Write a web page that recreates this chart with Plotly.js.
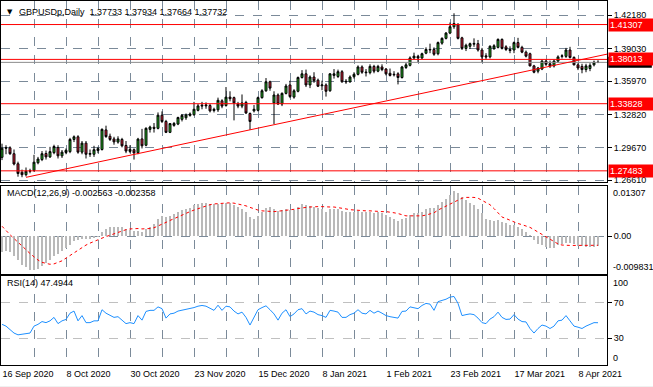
<!DOCTYPE html>
<html>
<head>
<meta charset="utf-8">
<script src="https://cdn.plot.ly/plotly-3.0.1.min.js"></script>
<style>html,body{margin:0;padding:0;background:#fff;}#chart{width:653px;height:387px;}</style>
</head>
<body>
<div id="chart"></div>
<script>
// ---------------- DATA ----------------
const firstDay = '2020-09-16';
const lastDay = '2021-04-15';
const closedDays = ['2020-12-25', '2021-01-01'];

const openP = [1.2876,1.2962,1.2966,1.2910,1.2815,1.2735,1.2712,1.2745,1.2752,1.2825,
1.2855,1.2912,1.2880,1.2920,1.2968,1.2890,1.2922,1.2930,1.3045,1.3070,
1.2925,1.3010,1.2905,1.2905,1.2940,1.2950,1.3135,1.3075,1.3050,1.3020,
1.3045,1.2988,1.2932,1.2948,1.2920,1.3050,1.2990,1.3140,1.3160,1.3150,
1.3274,1.3215,1.3112,1.3178,1.3190,1.3235,1.3250,1.3272,1.3278,1.3320,
1.3360,1.3362,1.3365,1.3318,1.3325,1.3410,1.3365,1.3445,1.3440,1.3380,
1.3360,1.3395,1.3290,1.3315,1.3320,1.3440,1.3505,1.3590,1.3390,1.3465,
1.3380,1.3480,1.3560,1.3445,1.3500,1.3630,1.3665,1.3560,1.3635,1.3605,
1.3552,1.3560,1.3505,1.3650,1.3640,1.3685,1.3595,1.3590,1.3638,1.3660,
1.3730,1.3682,1.3676,1.3735,1.3690,1.3730,1.3710,1.3670,1.3655,1.3665,
1.3630,1.3725,1.3745,1.3815,1.3830,1.3815,1.3860,1.3890,1.3895,1.3855,
1.3955,1.4000,1.4050,1.4110,1.4130,1.4005,1.3905,1.3925,1.3945,1.3950,
1.3890,1.3835,1.3825,1.3905,1.3915,1.3990,1.3920,1.3895,1.3890,1.3960,
1.3915,1.3870,1.3855,1.3740,1.3690,1.3710,1.3785,1.3760,1.3740,1.3785,
1.3830,1.3830,1.3890,1.3820,1.3750,1.3735,1.3705,1.3715,1.3750,1.37733];
const highP = [1.3005,1.2990,1.2980,1.2950,1.2835,1.2760,1.2780,1.2768,1.2900,1.2880,
1.2935,1.2940,1.2975,1.2995,1.2990,1.2945,1.2960,1.3060,1.3083,1.3085,
1.3030,1.3030,1.2950,1.2985,1.2975,1.3150,1.3175,1.3100,1.3070,1.3075,
1.3060,1.3030,1.2990,1.2960,1.3060,1.3145,1.3160,1.3175,1.3200,1.3300,
1.3310,1.3230,1.3200,1.3210,1.3260,1.3285,1.3290,1.3300,1.3400,1.3380,
1.3400,1.3395,1.3380,1.3345,1.3440,1.3425,1.3540,1.3500,1.3450,1.3400,
1.3470,1.3410,1.3300,1.3370,1.3450,1.3520,1.3625,1.3600,1.3500,1.3480,
1.3490,1.3570,1.3600,1.3520,1.3640,1.3700,1.3705,1.3650,1.3680,1.3620,
1.3600,1.3575,1.3670,1.3710,1.3705,1.3700,1.3615,1.3650,1.3680,1.3745,
1.3745,1.3710,1.3755,1.3750,1.3750,1.3755,1.3720,1.3715,1.3690,1.3680,
1.3740,1.3770,1.3830,1.3865,1.3845,1.3865,1.3915,1.3950,1.3915,1.3970,
1.4010,1.4060,1.4150,1.4237,1.4145,1.4015,1.3950,1.3960,1.4000,1.3985,
1.3910,1.3860,1.3935,1.3945,1.4000,1.4000,1.3935,1.3925,1.3970,1.4005,
1.3930,1.3885,1.3865,1.3750,1.3730,1.3800,1.3800,1.3790,1.3800,1.3840,
1.3850,1.3910,1.3920,1.3830,1.3765,1.3760,1.3760,1.3765,1.3790,1.37934];
const lowP = [1.2850,1.2905,1.2900,1.2800,1.2693,1.2688,1.2695,1.2725,1.2740,1.2810,
1.2840,1.2855,1.2870,1.2905,1.2865,1.2870,1.2905,1.2915,1.3020,1.2910,
1.2905,1.2865,1.2880,1.2880,1.2915,1.2940,1.3060,1.3030,1.2995,1.3005,
1.2970,1.2915,1.2915,1.2855,1.2905,1.2960,1.2980,1.3110,1.3110,1.3140,
1.3200,1.3105,1.3105,1.3165,1.3180,1.3215,1.3230,1.3260,1.3270,1.3310,
1.3330,1.3335,1.3300,1.3300,1.3305,1.3340,1.3355,1.3405,1.3225,1.3340,
1.3340,1.3285,1.3135,1.3300,1.3310,1.3430,1.3495,1.3505,1.3190,1.3370,
1.3360,1.3470,1.3435,1.3430,1.3490,1.3620,1.3540,1.3530,1.3580,1.3540,
1.3510,1.3450,1.3495,1.3620,1.3625,1.3580,1.3570,1.3580,1.3620,1.3650,
1.3665,1.3640,1.3660,1.3670,1.3680,1.3690,1.3650,1.3640,1.3640,1.3565,
1.3620,1.3710,1.3735,1.3800,1.3775,1.3805,1.3850,1.3860,1.3835,1.3840,
1.3940,1.3990,1.4040,1.4090,1.3990,1.3890,1.3880,1.3900,1.3920,1.3875,
1.3775,1.3800,1.3810,1.3890,1.3905,1.3895,1.3880,1.3860,1.3860,1.3905,
1.3860,1.3820,1.3735,1.3670,1.3670,1.3700,1.3740,1.3720,1.3725,1.3770,
1.3810,1.3815,1.3810,1.3745,1.3700,1.3670,1.3680,1.3690,1.3735,1.37664];
const closeP = [1.2962,1.2966,1.2910,1.2813,1.2723,1.2712,1.2745,1.2748,1.2830,1.2860,
1.2910,1.2880,1.2930,1.2978,1.2890,1.2925,1.2942,1.3045,1.3070,1.2925,
1.3010,1.2905,1.2912,1.2948,1.2958,1.3140,1.3072,1.3045,1.3022,1.3050,
1.2985,1.2935,1.2950,1.2918,1.3048,1.2985,1.3150,1.3162,1.3150,1.3274,
1.3215,1.3112,1.3195,1.3196,1.3252,1.3272,1.3276,1.3285,1.3330,1.3362,
1.3368,1.3370,1.3315,1.3330,1.3415,1.3360,1.3445,1.3430,1.3390,1.3360,
1.3390,1.3295,1.3215,1.3330,1.3440,1.3505,1.3590,1.3530,1.3465,1.3380,
1.3480,1.3550,1.3450,1.3505,1.3630,1.3665,1.3560,1.3635,1.3600,1.3548,
1.3560,1.3500,1.3665,1.3665,1.3685,1.3590,1.3590,1.3635,1.3660,1.3730,
1.3680,1.3676,1.3735,1.3690,1.3735,1.3705,1.3665,1.3650,1.3660,1.3630,
1.3730,1.3750,1.3815,1.3832,1.3815,1.3855,1.3895,1.3895,1.3850,1.3960,
1.4000,1.4050,1.4110,1.4140,1.4000,1.3905,1.3935,1.3950,1.3952,1.3890,
1.3825,1.3825,1.3925,1.3930,1.3990,1.3905,1.3895,1.3885,1.3960,1.3915,
1.3870,1.3832,1.3740,1.3680,1.3720,1.3785,1.3755,1.3740,1.3785,1.3825,
1.3835,1.3890,1.3820,1.3750,1.3720,1.3705,1.3740,1.3745,1.3775,1.37732];

const macdMain = [-0.0040,-0.0038,-0.0042,-0.0051,-0.0063,-0.0074,-0.0081,-0.0087,-0.0088,-0.0084,
-0.0077,-0.0070,-0.0062,-0.0052,-0.0045,-0.0038,-0.0031,-0.0022,-0.0012,-0.0010,
-0.0006,-0.0008,-0.0007,-0.0004,-0.0002,0.0010,0.0020,0.0024,0.0025,0.0025,
0.0024,0.0020,0.0017,0.0013,0.0014,0.0012,0.0020,0.0025,0.0032,0.0045,
0.0053,0.0050,0.0053,0.0057,0.0062,0.0067,0.0071,0.0074,0.0080,0.0084,
0.0086,0.0086,0.0084,0.0083,0.0085,0.0084,0.0087,0.0086,0.0082,0.0076,
0.0071,0.0062,0.0050,0.0045,0.0052,0.0062,0.0074,0.0075,0.0070,0.0066,
0.0068,0.0072,0.0068,0.0068,0.0077,0.0083,0.0080,0.0079,0.0077,0.0073,
0.0070,0.0064,0.0070,0.0071,0.0071,0.0066,0.0062,0.0062,0.0063,0.0066,
0.0064,0.0062,0.0063,0.0061,0.0062,0.0060,0.0056,0.0050,0.0045,0.0040,
0.0045,0.0048,0.0055,0.0060,0.0061,0.0064,0.0070,0.0074,0.0074,0.0082,
0.0090,0.0098,0.0106,0.0118,0.0113,0.0102,0.0093,0.0087,0.0082,0.0072,
0.0060,0.0045,0.0041,0.0040,0.0041,0.0038,0.0034,0.0030,0.0028,0.0025,
0.0019,0.0012,0.0002,-0.0011,-0.0020,-0.0023,-0.0027,-0.0030,-0.0030,-0.0024,
-0.0020,-0.0018,-0.0018,-0.0020,-0.0025,-0.0026,-0.0027,-0.0028,-0.0027,-0.002563];
const macdSignal = [0.0026,0.0014,0.0004,-0.0006,-0.0015,-0.0025,-0.0035,-0.0045,-0.0054,-0.0062,
-0.0068,-0.0071,-0.0073,-0.0072,-0.0069,-0.0064,-0.0057,-0.0050,-0.0043,-0.0036,
-0.0029,-0.0023,-0.0018,-0.0013,-0.0009,-0.0005,-0.0001,0.0003,0.0007,0.0011,
0.0014,0.0017,0.0019,0.0020,0.0020,0.0019,0.0019,0.0020,0.0022,0.0026,
0.0031,0.0036,0.0041,0.0046,0.0051,0.0056,0.0060,0.0064,0.0068,0.0072,
0.0076,0.0079,0.0082,0.0084,0.0085,0.0086,0.0087,0.0087,0.0086,0.0084,
0.0082,0.0079,0.0075,0.0071,0.0068,0.0066,0.0065,0.0064,0.0064,0.0065,
0.0066,0.0068,0.0069,0.0070,0.0072,0.0074,0.0075,0.0076,0.0077,0.0077,
0.0077,0.0076,0.0076,0.0076,0.0075,0.0073,0.0071,0.0069,0.0068,0.0067,
0.0067,0.0066,0.0066,0.0065,0.0064,0.0064,0.0064,0.0063,0.0061,0.0059,
0.0056,0.0053,0.0053,0.0053,0.0053,0.0053,0.0055,0.0058,0.0061,0.0068,
0.0073,0.0079,0.0084,0.0089,0.0095,0.0099,0.0101,0.0101,0.0101,0.0099,
0.0094,0.0088,0.0082,0.0072,0.0060,0.0050,0.0046,0.0041,0.0036,0.0033,
0.0030,0.0027,0.0023,0.0017,0.0011,0.0004,-0.0002,-0.0007,-0.0015,-0.0020,
-0.0023,-0.0024,-0.0024,-0.0024,-0.0024,-0.0024,-0.0024,-0.0024,-0.0024,-0.002358];
const rsi = [45.7,43.7,39.8,35.9,33.9,34.7,35.9,35.9,43.7,45.7,
48.8,47.6,49.6,53.5,46.5,49.6,51.2,58.2,60.6,49.6,
55.5,47.6,47.6,49.6,49.6,62.1,58.2,55.5,53.5,54.3,
50.4,46.5,47.6,46.5,55.5,50.4,60.2,61.4,61.4,65.3,
63.3,52.7,57.4,58.2,60.6,61.4,62.1,63.3,64.5,66.1,
66.9,66.1,63.3,61.4,67.2,61.4,66.1,65.3,60.6,57.4,
59.4,53.5,44.9,53.5,62.1,64.5,66.5,62.1,57.4,50.4,
58.2,62.1,54.3,57.4,62.1,63.3,57.4,60.6,59.4,56.6,
55.5,53.5,61.4,60.6,59.4,53.5,53.5,56.6,58.2,62.1,
58.2,57.4,61.4,58.2,60.6,58.2,55.5,54.3,53.5,52.7,
60.2,60.6,65.3,64.5,63.3,66.9,69.2,68.4,61.4,71.2,
72.3,73.9,76.3,77.0,69.2,55.5,56.6,57.4,56.6,52.7,
47.6,46.5,51.6,54.3,59.4,53.5,51.2,51.6,56.6,51.6,
48.8,48.4,41.0,35.9,41.0,44.9,43.7,41.0,43.7,49.6,
50.4,55.5,49.6,43.7,42.5,41.0,43.7,45.7,47.6,47.4944];

const levelPrices = [1.41307, 1.38013, 1.33828, 1.27483];
const priceTickVals = [1.42180, 1.39030, 1.35970, 1.32820, 1.29670, 1.26610];
const trendDates = ['2020-09-24', '2021-01-12'];
const trendPrices = [1.2687, 1.3296];
const macdScale = [-0.009831, 0.01307];
const rsiLevels = [30, 70];
const symbolText = 'GBPUSDp,Daily  1.37733 1.37934 1.37664 1.37732';
const macdText = 'MACD(12,26,9) -0.002563 -0.002358';
const rsiText = 'RSI(14) 47.4944';

// ---------------- trading-day category axis ----------------
function iso(d){ return d.toISOString().slice(0,10); }
const dates = [];
for (let d = new Date(firstDay+'T00:00:00Z'); iso(d) <= lastDay; d.setUTCDate(d.getUTCDate()+1)) {
  const wd = d.getUTCDay();
  if (wd === 0 || wd === 6) continue;
  if (closedDays.includes(iso(d))) continue;
  dates.push(iso(d));
}
const MON = ['Jan','Feb','Mar','Apr','May','Jun','Jul','Aug','Sep','Oct','Nov','Dec'];
function label(s){ const d = new Date(s+'T00:00:00Z'); return d.getUTCDate()+' '+MON[d.getUTCMonth()]+' '+d.getUTCFullYear(); }
const gridVals = [], gridText = [];
dates.forEach((s,i)=>{ if (i % 8 === 0){ gridVals.push(s); gridText.push(i % 16 === 0 ? label(s) : ''); } });

const FONT = 'Liberation Sans, Arial, sans-serif';
const GRID = '#7b8a99';
const xRange = [-0.25, dates.length + 1.25];

// trendline extended to the right edge
const ti0 = dates.indexOf(trendDates[0]), ti1 = dates.indexOf(trendDates[1]);
const slope = (trendPrices[1]-trendPrices[0])/(ti1-ti0);
const trendEndPrice = trendPrices[0] + slope*(xRange[1]-ti0);
const lastClose = closeP[closeP.length-1];

const traces = [
  { type:'candlestick', x:dates, open:openP, high:highP, low:lowP, close:closeP,
    xaxis:'x', yaxis:'y', whiskerwidth:0, hoverinfo:'skip',
    increasing:{line:{color:'#000000', width:1}, fillcolor:'#22b422'},
    decreasing:{line:{color:'#000000', width:1}, fillcolor:'#e0203a'} },
  { type:'bar', x:dates, y:macdMain, xaxis:'x2', yaxis:'y2', width:0.3,
    marker:{color:'#b9b9b9', line:{width:0}}, hoverinfo:'skip' },
  { type:'scatter', mode:'lines', x:dates, y:macdSignal, xaxis:'x2', yaxis:'y2',
    line:{color:'#ff0000', width:1, dash:'dot'}, hoverinfo:'skip' },
  { type:'scatter', mode:'lines', x:dates, y:rsi, xaxis:'x3', yaxis:'y3',
    line:{color:'#1e90ff', width:1}, hoverinfo:'skip' }
];

const xBase = { type:'category', range:xRange, tickvals:gridVals, ticktext:gridText,
  showgrid:true, gridcolor:GRID, griddash:'dash', gridwidth:1, zeroline:false,
  showline:true, mirror:true, linecolor:'#000', linewidth:1, ticks:'',
  showticklabels:false, fixedrange:true };
const yBase = { side:'right', showline:true, mirror:true, linecolor:'#000', linewidth:1,
  ticks:'outside', ticklen:4, tickcolor:'#000', zeroline:false, showgrid:true,
  gridcolor:GRID, griddash:'dash', gridwidth:1,
  tickfont:{family:FONT, size:9, color:'#000'}, fixedrange:true };

const shapes = [];
levelPrices.forEach(p => shapes.push({type:'line', xref:'x domain', x0:0, x1:1, yref:'y', y0:p, y1:p,
  line:{color:'#ff0000', width:1}}));
shapes.push({type:'line', xref:'x domain', x0:0, x1:1, yref:'y', y0:lastClose, y1:lastClose,
  line:{color:'#8c8c8c', width:1}});
shapes.push({type:'line', xref:'x', yref:'y', x0:ti0, y0:trendPrices[0], x1:xRange[1], y1:trendEndPrice,
  line:{color:'#ff0000', width:1}});
// bid-price tag (its text is covered by the 1.38013 tag, only the black box shows)
shapes.push({type:'rect', xref:'paper', x0:1.002, x1:1.074, yref:'y', ysizemode:'pixel', yanchor:lastClose,
  y0:-5.5, y1:5.5, fillcolor:'#000000', line:{width:0}, layer:'above'});
shapes.push({type:'rect', xref:'paper', yref:'paper', x0:-0.01, x1:1.1, y0:-0.058, y1:-0.075,
  fillcolor:'#f0f0f0', line:{width:0}, layer:'below'});

const annotations = [];
function tag(val, yref, bg){
  return {xref:'paper', x:1, xanchor:'left', xshift:1, yref:yref, y:val, yanchor:'middle',
    text:val.toFixed(5), showarrow:false, bgcolor:bg, borderpad:1, width:42, align:'left',
    font:{family:FONT, size:9, color:'#fff'}};
}
levelPrices.forEach(p => annotations.push(tag(p, 'y', '#ff0000')));
annotations.push({xref:'paper', yref:'y domain', x:0.006, y:0.94, xanchor:'left', yanchor:'middle',
  text:'▼', showarrow:false, font:{family:'DejaVu Sans', size:7, color:'#000'}});
annotations.push({xref:'paper', yref:'y domain', x:0.026, y:0.94, xanchor:'left', yanchor:'middle',
  text:symbolText, showarrow:false, font:{family:FONT, size:9, color:'#000'}});
annotations.push({xref:'paper', yref:'y2 domain', x:0.006, y:0.92, xanchor:'left', yanchor:'middle',
  text:macdText, showarrow:false, font:{family:FONT, size:9, color:'#000'}});
annotations.push({xref:'paper', yref:'y3 domain', x:0.006, y:0.92, xanchor:'left', yanchor:'middle',
  text:rsiText, showarrow:false, font:{family:FONT, size:9, color:'#000'}});
// indicator scale labels at the window edges
[[macdScale[1],'y2','top',String(macdScale[1])],[macdScale[0],'y2','bottom',String(macdScale[0])],
 [100,'y3','top','100'],[0,'y3','bottom','0']].forEach(a => annotations.push({
  xref:'paper', x:1, xanchor:'left', xshift:4, yref:a[1], y:a[0], yanchor:a[2], text:a[3],
  showarrow:false, font:{family:FONT, size:9, color:'#000'}}));

const layout = {
  width:653, height:387, margin:{l:1, r:46, t:1, b:22}, showlegend:false,
  paper_bgcolor:'#ffffff', plot_bgcolor:'#ffffff', font:{family:FONT, size:9, color:'#000'},
  xaxis: Object.assign({}, xBase, {anchor:'y', domain:[0,1], rangeslider:{visible:false}}),
  xaxis2: Object.assign({}, xBase, {anchor:'y2', matches:'x'}),
  xaxis3: Object.assign({}, xBase, {anchor:'y3', matches:'x', showticklabels:true,
    ticklabelposition:'outside right', tickfont:{family:FONT, size:9, color:'#000'}}),
  yaxis: Object.assign({}, yBase, {domain:[0.5027,1], range:[1.26427,1.43531],
    tickvals:priceTickVals, ticktext:priceTickVals.map(v=>v.toFixed(5))}),
  yaxis2: Object.assign({}, yBase, {domain:[0.25,0.4918], range:macdScale,
    tickvals:[0], ticktext:['0.00']}),
  yaxis3: Object.assign({}, yBase, {domain:[0,0.2445], range:[0,100], tickvals:rsiLevels,
    ticktext:rsiLevels.map(String), gridcolor:'#c0c0c0'}),
  shapes: shapes, annotations: annotations, bargap:0
};
Plotly.newPlot('chart', traces, layout, {displayModeBar:false, staticPlot:true});
</script>
</body>
</html>
